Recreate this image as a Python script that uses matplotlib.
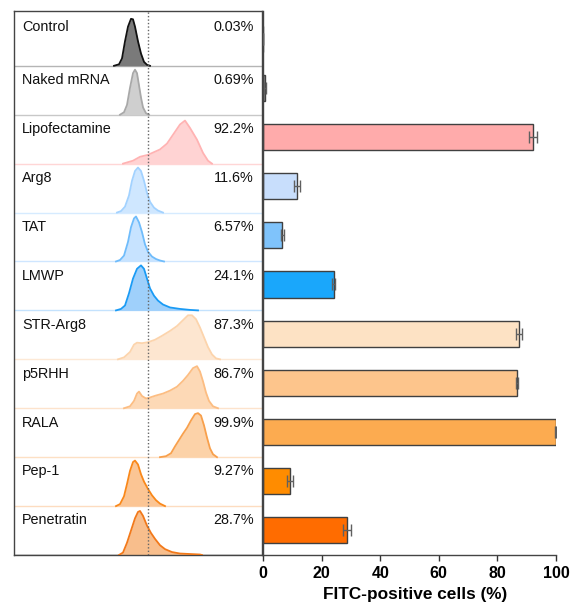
import numpy as np
import matplotlib
matplotlib.use('Agg')
from matplotlib import pyplot as plt

plt.rcParams['font.family'] = ['Liberation Sans', 'DejaVu Sans']

samples = ['Control', 'Naked mRNA', 'Lipofectamine', 'Arg8', 'TAT', 'LMWP',
           'STR-Arg8', 'p5RHH', 'RALA', 'Pep-1', 'Penetratin']
positive = [0.03, 0.69, 92.2, 11.6, 6.57, 24.1, 87.3, 86.7, 99.9, 9.27, 28.7]
positive_err = [0.02, 0.3, 1.4, 0.9, 0.5, 0.5, 1.1, 0.3, 0.1, 1.1, 1.4]
gate = 148

# flow histograms: fluorescence channel positions and relative counts per sample
hist_x = [
    [114, 119, 122, 125, 128, 131, 133, 135, 138, 141, 144, 147, 150],
    [120, 124, 127, 130, 133, 135, 137, 139, 141, 143, 146, 149],
    [123, 133, 140, 148, 160, 167, 173, 180, 185, 190, 197, 203, 208, 212],
    [117, 121, 125, 129, 132, 135, 138, 141, 144, 147, 150, 154, 158, 163],
    [116, 120, 124, 128, 131, 134, 136, 139, 142, 145, 148, 152, 156, 160, 164],
    [116, 121, 125, 129, 133, 137, 141, 144, 147, 150, 154, 158, 163, 170, 180, 190, 198],
    [118, 124, 130, 134, 137, 142, 148, 155, 162, 170, 177, 183, 188, 192, 196, 200,
     204, 208, 212, 216, 220],
    [124, 130, 134, 137, 139, 142, 146, 150, 156, 163, 170, 177, 183, 188, 193, 197,
     200, 203, 206, 209, 213, 218],
    [160, 166, 171, 175, 179, 183, 187, 191, 195, 198, 201, 204, 207, 210, 213, 217],
    [116, 120, 124, 127, 130, 133, 135, 138, 141, 144, 148, 152, 156, 160, 165],
    [119, 123, 127, 131, 135, 138, 140, 143, 147, 151, 155, 160, 165, 172, 180, 190, 200, 202],
]
hist_h = [
    [0, 0.03, 0.15, 0.5, 0.8, 0.96, 0.95, 0.8, 0.5, 0.25, 0.08, 0.02, 0],
    [0, 0.05, 0.2, 0.55, 0.85, 0.92, 0.85, 0.6, 0.35, 0.15, 0.03, 0],
    [0, 0.06, 0.14, 0.18, 0.29, 0.41, 0.59, 0.8, 0.88, 0.73, 0.49, 0.22, 0.06, 0],
    [0, 0.03, 0.12, 0.35, 0.65, 0.85, 0.92, 0.85, 0.65, 0.4, 0.22, 0.1, 0.04, 0],
    [0, 0.03, 0.12, 0.4, 0.7, 0.88, 0.92, 0.8, 0.6, 0.35, 0.2, 0.1, 0.05, 0.02, 0],
    [0, 0.03, 0.1, 0.35, 0.65, 0.85, 0.92, 0.85, 0.65, 0.45, 0.3, 0.2, 0.12, 0.06, 0.03,
     0.01, 0],
    [0, 0.04, 0.15, 0.3, 0.34, 0.33, 0.35, 0.4, 0.48, 0.58, 0.68, 0.8, 0.9, 0.9, 0.82,
     0.65, 0.45, 0.25, 0.1, 0.02, 0],
    [0, 0.04, 0.15, 0.3, 0.34, 0.25, 0.2, 0.22, 0.26, 0.3, 0.36, 0.44, 0.56, 0.68, 0.82,
     0.86, 0.75, 0.55, 0.32, 0.15, 0.04, 0],
    [0, 0.02, 0.08, 0.22, 0.35, 0.48, 0.6, 0.75, 0.88, 0.9, 0.85, 0.65, 0.4, 0.18, 0.06, 0],
    [0, 0.04, 0.2, 0.45, 0.72, 0.9, 0.93, 0.85, 0.65, 0.5, 0.35, 0.22, 0.12, 0.05, 0],
    [0, 0.05, 0.25, 0.5, 0.75, 0.88, 0.9, 0.8, 0.6, 0.45, 0.33, 0.2, 0.12, 0.06, 0.03,
     0.02, 0.01, 0],
]

bar_colors = ['#6e6e6e', '#9a9a9a', '#ffabab', '#c8defc', '#7fc3fb', '#1aa7fb',
              '#fde2c4', '#fdc58c', '#fcab50', '#ff8c00', '#ff6c00']
fill_colors = ['#7a7a7a', '#cfcfcf', '#ffd3d3', '#cfe7ff', '#c7e3ff', '#9fd0fb',
               '#fde6d0', '#fdd9b6', '#fcd2a8', '#fbc594', '#f8be8c']
line_colors = ['#111111', '#a8a8a8', '#ffb3b3', '#a2d2ff', '#6fbcfb', '#1a9bf5',
               '#fcd4ac', '#fcbd82', '#f8a04c', '#f9881a', '#f2791a']
base_colors = ['#b5b5b5', '#c8c8c8', '#ffd6d6', '#d6ebff', '#cfe6ff', '#c4e2fd',
               '#fde9d6', '#fde3cc', '#fde0c4', '#fddcc0', '#404040']

n = len(samples)

fig = plt.figure(figsize=(5.7, 6.07), dpi=100)
ax_h = fig.add_axes([14 / 570, 52 / 607, 248 / 570, 544 / 607])
ax_b = fig.add_axes([263 / 570, 52 / 607, 293 / 570, 544 / 607])

# stacked histograms
for i in range(n):
    base = n - 1 - i
    x = np.array(hist_x[i], dtype=float)
    y = base + np.array(hist_h[i])
    ax_h.axhline(base, color=base_colors[i], lw=1.0, zorder=1)
    ax_h.fill_between(x, base, y, color=fill_colors[i], lw=0, zorder=2)
    ax_h.plot(x, y, color=line_colors[i], lw=1.3, zorder=3)
    ty = base + (0.94 if i == 0 else 0.85)
    ax_h.text(22, ty, samples[i], ha='left', va='top', fontsize=10.4, color='#111111')
    ax_h.text(254, ty, f'{positive[i]}%', ha='right', va='top', fontsize=10.4,
              color='#111111')

ax_h.axvline(gate, color='#666666', lw=1.0, ls=(0, (1, 1.5)), zorder=4)
ax_h.set_xlim(14, 262)
ax_h.set_ylim(0, 11.12)
ax_h.set_xticks([])
ax_h.set_yticks([])
for s in ax_h.spines.values():
    s.set_color('#444444')
    s.set_linewidth(1.0)

# percentage of FITC-positive cells
ypos = [n - 1 - i + 0.5 for i in range(n)]
ax_b.barh(ypos, positive, height=0.53, color=bar_colors, edgecolor='#404040',
          linewidth=1.0, zorder=2)
ax_b.errorbar(positive, ypos, xerr=positive_err, fmt='none', ecolor='#606060',
              elinewidth=1.0, capsize=4.5, capthick=1.0, zorder=3)
ax_b.set_xlim(0, 100)
ax_b.set_ylim(0, 11.06)
ax_b.set_yticks([])
ax_b.set_xticks([0, 20, 40, 60, 80, 100])
ax_b.tick_params(axis='x', length=4, width=1, color='#333333', labelsize=11.5, pad=4)
for lab in ax_b.get_xticklabels():
    lab.set_fontweight('bold')
ax_b.set_xlabel('FITC-positive cells (%)', fontsize=12.4, fontweight='bold')
ax_b.xaxis.set_label_coords((415 - 263) / 293, -0.058)
ax_b.spines['top'].set_visible(False)
ax_b.spines['right'].set_visible(False)
for side in ['left', 'bottom']:
    ax_b.spines[side].set_color('#444444')
    ax_b.spines[side].set_linewidth(1.0)

plt.savefig('out.png', dpi=100)
